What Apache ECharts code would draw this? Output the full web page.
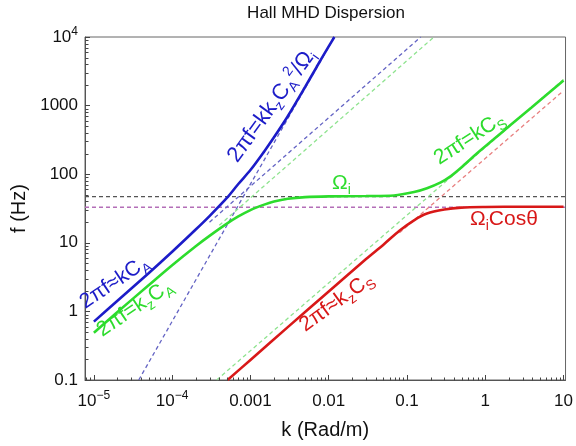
<!DOCTYPE html>
<html>
<head>
<meta charset="utf-8">
<script src="https://cdn.jsdelivr.net/npm/echarts@6/dist/echarts.min.js"></script>
<style>
  html, body { margin: 0; padding: 0; background: #fff; }
  #chart { width: 576px; height: 446px; }
</style>
</head>
<body>
<div id="chart"></div>
<script>
// axis extents (k in rad/m, f in Hz)
const kMin = 7.7e-6, kMax = 10.6;
const fMin = 0.1, fMax = 1e4;

// tick labels per decade
const xTickExp = [-5, -4, -3, -2, -1, 0, 1];
const xTickLabels = ['10{sup|−5}', '10{sup|−4}', '0.001', '0.01', '0.1', '1', '10'];
const yTickExp = [-1, 0, 1, 2, 3, 4];
const yTickLabels = ['0.1', '1', '10', '100', '1000', '10{sup|4}'];

// solid branches
const blueK  = [1e-5, 2e-5, 5e-5, 1e-4, 2e-4, 3e-4, 5e-4, 7e-4, 1e-3, 1.5e-3, 2e-3, 3e-3, 5e-3, 7e-3, 1e-2, 1.18e-2];
const blueF  = [0.71, 1.43, 3.6, 7.4, 15.6, 24.5, 45, 72, 115, 215, 345, 700, 1870, 3650, 7300, 10000];
const greenK = [1e-5, 2e-5, 5e-5, 1e-4, 2e-4, 3e-4, 5e-4, 7e-4, 1e-3, 1.5e-3, 2e-3, 3e-3, 5e-3, 1e-2, 3e-2, 6.8e-2, 0.123, 0.18, 0.27, 0.36, 0.49, 0.78, 1.28, 2.1, 3.9, 10];
const greenF = [0.49, 0.98, 2.4, 4.7, 8.9, 12.6, 19, 24.2, 30, 36, 40, 43.8, 46.3, 47.5, 48, 49, 55, 62.5, 76, 93, 124, 200, 322, 520, 940, 2330];
const redK   = [5.1e-4, 1e-3, 3e-3, 1e-2, 3e-2, 5e-2, 8e-2, 0.123, 0.18, 0.3, 0.49, 1, 3, 10];
const redF   = [0.1, 0.196, 0.59, 1.95, 5.8, 9.4, 15, 21.3, 26.7, 30.5, 32.6, 33.3, 33.5, 33.5];

// dashed asymptotes [k, f] end points
const omegaLine    = [[kMin, 47], [kMax, 47]];
const omegaCosLine = [[kMin, 33], [kMax, 33]];
const kCaLine      = [[3e-4, 20], [0.15, 10000]];
const whistlerLine = [[3.74e-5, 0.1], [1.18e-2, 10000]];
const kzCaLine     = [[4e-4, 18], [0.221, 10000]];
const kCsLine      = [[3.7e-4, 0.1], [10, 2400]];
const kzCsLine     = [[0.08, 14], [10, 1650]];

const FONT = 'Liberation Sans, Arial, sans-serif';
const BLUE = '#1c1cc8', GREEN = '#2ddc2d', RED = '#d81818';

function zip(ks, fs) {
  return ks.map((k, i) => [k, fs[i]]);
}

function tickText(v, exps, labels) {
  const lg = Math.log10(v);
  const e = Math.round(lg);
  const i = exps.indexOf(e);
  return (i >= 0 && Math.abs(lg - e) < 1e-6) ? labels[i] : '';
}

// minor tick positions 2..9 x 10^n
const minorX = [], minorY = [];
for (let e = -6; e <= 1; e++) {
  for (let m = 2; m <= 9; m++) {
    const v = m * Math.pow(10, e);
    if (v > kMin && v < kMax) minorX.push([v, fMin]);
  }
}
for (let e = -1; e <= 3; e++) {
  for (let m = 2; m <= 9; m++) {
    minorY.push([kMin, m * Math.pow(10, e)]);
  }
}

function dashed(data, color) {
  return {
    type: 'line', data: data, showSymbol: false, silent: true, z: 2,
    lineStyle: { color: color, width: 1.3, type: [4, 3] }
  };
}

function solid(data, color) {
  return {
    type: 'line', data: data, showSymbol: false, silent: true, smooth: 0.3, z: 3,
    lineStyle: { color: color, width: 2.6 }
  };
}

const richMath = {
  sub: { fontSize: 14, fontFamily: FONT, verticalAlign: 'bottom', lineHeight: 14 },
  sup: { fontSize: 14, fontFamily: FONT, verticalAlign: 'top', lineHeight: 14 }
};

// label placed by the left end of its baseline
function mathLabel(text, bx, by, deg, color, size) {
  const a = deg * Math.PI / 180;
  const d = 7;
  return {
    type: 'text', z: 10, silent: true,
    x: bx + Math.sin(a) * d, y: by + Math.cos(a) * d,
    rotation: a,
    style: {
      text: text, fill: color, fontSize: size || 21, fontFamily: FONT, lineHeight: 28,
      align: 'left', verticalAlign: 'bottom', rich: richMath
    }
  };
}

function minorTick(dx, dy) {
  return function (params, api) {
    const p = api.coord([api.value(0), api.value(1)]);
    const x = Math.round(p[0]) + 0.5, y = Math.round(p[1]) + 0.5;
    return {
      type: 'line',
      shape: { x1: x, y1: y, x2: x + dx, y2: y + dy },
      style: { stroke: '#444', lineWidth: 1 }
    };
  };
}

const chart = echarts.init(document.getElementById('chart'), null, { renderer: 'canvas' });

const option = {
  animation: false,
  backgroundColor: '#fff',
  title: {
    text: 'Hall MHD Dispersion',
    left: 326, top: 5, padding: 0, textAlign: 'center',
    textStyle: { fontFamily: FONT, fontSize: 17, fontWeight: 'normal', color: '#111' }
  },
  grid: {
    left: 85, right: 9, top: 37, bottom: 66,
    show: true, borderColor: '#666', borderWidth: 1, backgroundColor: 'transparent'
  },
  xAxis: {
    type: 'log', logBase: 10, min: kMin, max: kMax,
    name: 'k (Rad/m)', nameLocation: 'middle', nameGap: 40,
    nameTextStyle: { fontFamily: FONT, fontSize: 20, color: '#111' },
    axisLine: { lineStyle: { color: '#555' } },
    axisTick: { inside: true, length: 5, lineStyle: { color: '#444' } },
    splitLine: { show: false },
    axisLabel: {
      margin: 10, fontFamily: FONT, fontSize: 17, color: '#111', lineHeight: 22,
      showMinLabel: false, showMaxLabel: false,
      formatter: v => tickText(v, xTickExp, xTickLabels),
      rich: { sup: { fontSize: 12, fontFamily: FONT, verticalAlign: 'top', lineHeight: 12, color: '#111' } }
    }
  },
  yAxis: {
    type: 'log', logBase: 10, min: fMin, max: fMax,
    name: 'f (Hz)', nameLocation: 'middle', nameGap: 54,
    nameTextStyle: { fontFamily: FONT, fontSize: 20, color: '#111' },
    axisLine: { lineStyle: { color: '#555' } },
    axisTick: { inside: true, length: 5, lineStyle: { color: '#444' } },
    splitLine: { show: false },
    axisLabel: {
      margin: 7, fontFamily: FONT, fontSize: 17, color: '#111', lineHeight: 22,
      formatter: v => tickText(v, yTickExp, yTickLabels),
      rich: { sup: { fontSize: 12, fontFamily: FONT, verticalAlign: 'top', lineHeight: 12, color: '#111' } }
    }
  },
  series: [
    dashed(omegaLine, '#555555'),
    dashed(omegaCosLine, '#b46fb8'),
    dashed(kCaLine, '#6464c4'),
    dashed(whistlerLine, '#6464c4'),
    dashed(kzCaLine, '#8fe38f'),
    dashed(kCsLine, '#8fe38f'),
    dashed(kzCsLine, '#e88080'),
    solid(zip(blueK, blueF), BLUE),
    solid(zip(greenK, greenF), GREEN),
    solid(zip(redK, redF), RED),
    { type: 'custom', data: minorX, silent: true, z: 4, renderItem: minorTick(0, -3) },
    { type: 'custom', data: minorY, silent: true, z: 4, renderItem: minorTick(3, 0) }
  ],
  graphic: [
    mathLabel('2πf=kk{sub|z}C{sub|A}{sup|2}/Ω{sub|i}', 238, 164, 54, BLUE, 22),
    mathLabel('2πf≈kC{sub|A}', 86, 310, 34, BLUE),
    mathLabel('2πf=k{sub|z}C{sub|A}', 103, 338, 34, GREEN),
    mathLabel('2πf≈k{sub|z}C{sub|S}', 306, 333, 36, RED),
    mathLabel('2πf=kC{sub|S}', 440, 166, 33, GREEN),
    mathLabel('Ω{sub|i}', 332, 190, 0, GREEN),
    mathLabel('Ω{sub|i}Cosθ', 470, 226, 0, RED)
  ]
};

chart.setOption(option);
</script>
</body>
</html>
